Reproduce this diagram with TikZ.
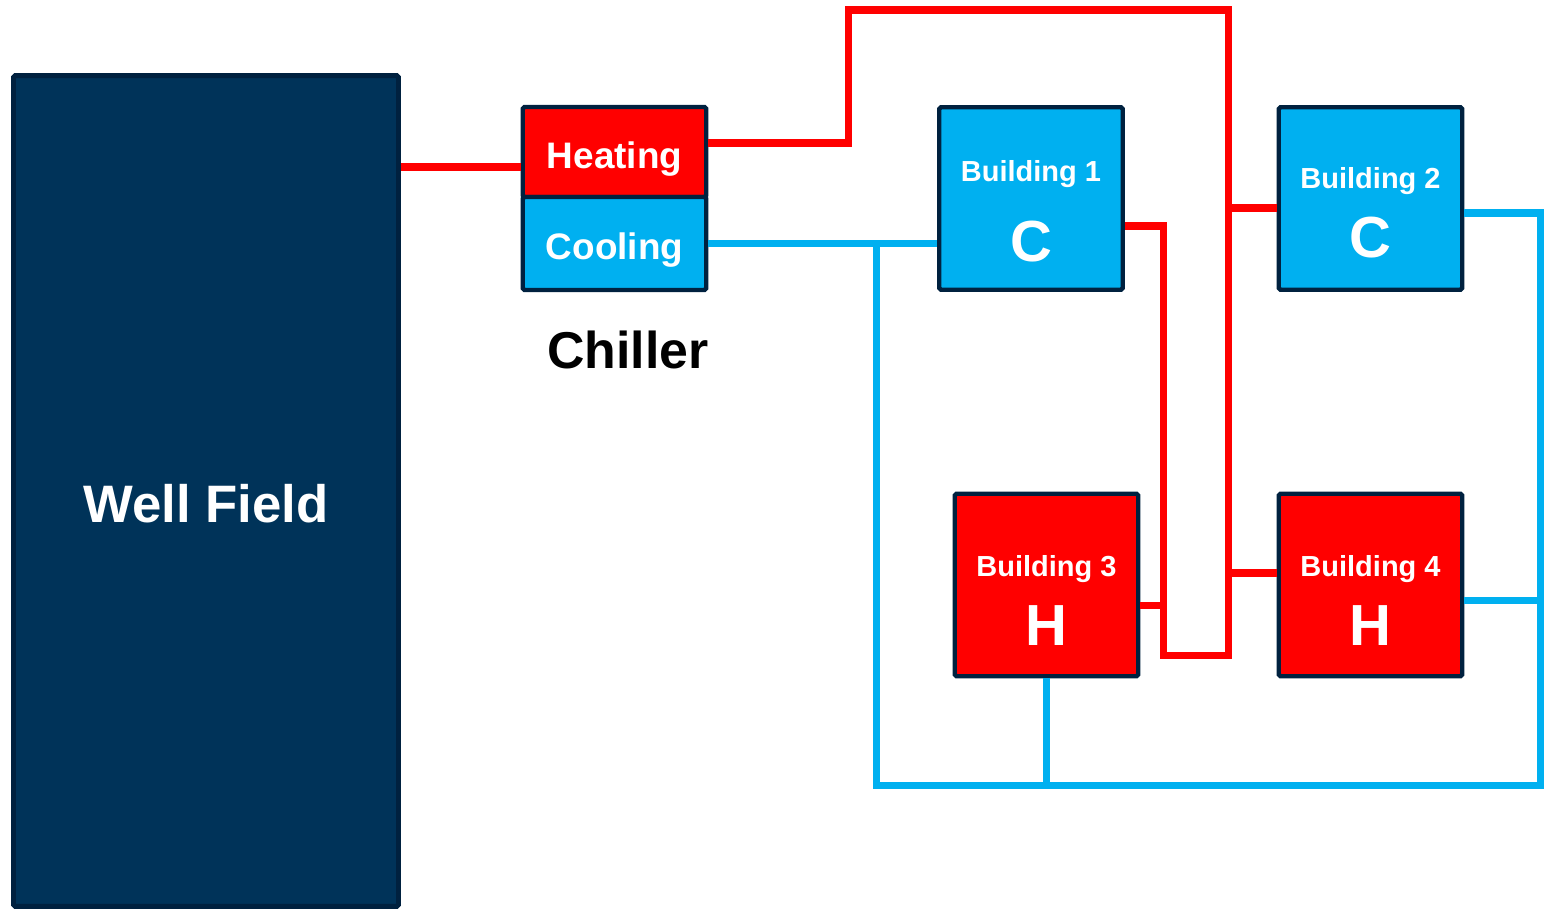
\documentclass[tikz,border=0pt]{standalone}
\usepackage{fontspec}
\setmainfont{Liberation Sans}
\usetikzlibrary{positioning,calc}
\definecolor{navy}  {HTML}{003359}
\definecolor{rim}   {HTML}{00213F}
\definecolor{hot}   {HTML}{FF0000}
\definecolor{cold}  {HTML}{00B0F0}
\newcommand\bldtype[1]{{\fontsize{33}{40}\selectfont #1}}
\newcommand\lift[1]{\rule{0pt}{#1}}
\tikzset{
  every node/.style={font=\bfseries},
  % --- nodes
  box/.style   = {draw=rim, line width=2.5pt, rounded corners=1pt, inner sep=0pt,
                  text=white, align=center},
  bld/.style   = {box, minimum width=3.67cm, minimum height=3.65cm,
                  font=\bfseries\fontsize{16.5}{19}\selectfont},
  bldc/.style  = {bld, fill=cold},
  bldh/.style  = {bld, fill=hot},
  half/.style  = {box, minimum width=3.67cm, text height=23pt,
                  font=\bfseries\fontsize{21}{25}\selectfont},
  well/.style  = {box, fill=navy, line width=2.8pt, minimum width=7.7cm,
                  minimum height=16.62cm, text height=36pt,
                  font=\bfseries\fontsize{30}{36}\selectfont},
  tag/.style   = {font=\bfseries\fontsize{29.5}{35}\selectfont, text=black},
  % --- pipes
  pipe/.style  = {line width=4pt},
  hotp/.style  = {pipe, draw=hot},
  coldp/.style = {pipe, draw=cold},
}

\begin{document}
\begin{tikzpicture}[x=0.02cm, y=-0.02cm]
  \useasboundingbox (0,0) rectangle (1550,910);

  \coordinate (hup)   at (848,10);
  \coordinate (hmain) at (1228,10);
  \coordinate (hret)  at (1163,655);
  \coordinate (cdrop) at (876,785);
  \coordinate (cright) at (1540,785);

  \node[well] (wf) at (206,491) {Well Field};
  \node[half, fill=hot, minimum height=1.8cm] (heat) at (614.5,152) {Heating};
  \node[half, fill=cold, minimum height=1.86cm] (cool) at (614.5,243.5) {Cooling};
  \node[tag] (chiller) at (628,350) {Chiller};

  \node[bldc] (b1) at (1031,198.5) {\lift{26pt}Building 1\\[18pt]\bldtype{C}};
  \node[bldc] (b2) at (1370.5,198.5) {\lift{28pt}Building 2\\[12pt]\bldtype{C}};
  \node[bldh] (b3) at (1046.5,585) {\lift{30pt}Building 3\\[12pt]\bldtype{H}};
  \node[bldh] (b4) at (1370.5,585) {\lift{30pt}Building 4\\[12pt]\bldtype{H}};

  \coordinate (hin)   at ($(heat.west)+(0,15)$);
  \coordinate (hout)  at ($(heat.east)+(0,-9)$);
  \coordinate (b1out) at ($(b1.east)+(0,27.5)$);
  \coordinate (b2in)  at ($(b2.west)+(0,9.5)$);
  \coordinate (b3out) at ($(b3.east)+(0,20)$);
  \coordinate (b4in)  at ($(b4.west)+(0,-12)$);
  \coordinate (b2out) at ($(b2.east)+(0,14.5)$);
  \coordinate (b4out) at ($(b4.east)+(0,15)$);

  % heating loop
  \draw[hotp] (wf.east |- hin) -- (hin);
  \draw[hotp] (hout) -| (hup) -- (hmain) -- (hmain |- hret) -- (hret) |- (b1out);
  \draw[hotp] (b2in) -- (b2in -| hmain);
  \draw[hotp] (b4in) -- (b4in -| hmain);
  \draw[hotp] (b3out) -- (b3out -| hret);

  % cooling loop
  \draw[coldp] (cool.east) -- (b1.west |- cool.east);
  \draw[coldp] (cool.east -| cdrop) -- (cdrop) -- (cright) |- (b2out);
  \draw[coldp] (b4out) -- (b4out -| cright);
  \draw[coldp] (b3.south) -- (b3.south |- cdrop);
\end{tikzpicture}
\end{document}
